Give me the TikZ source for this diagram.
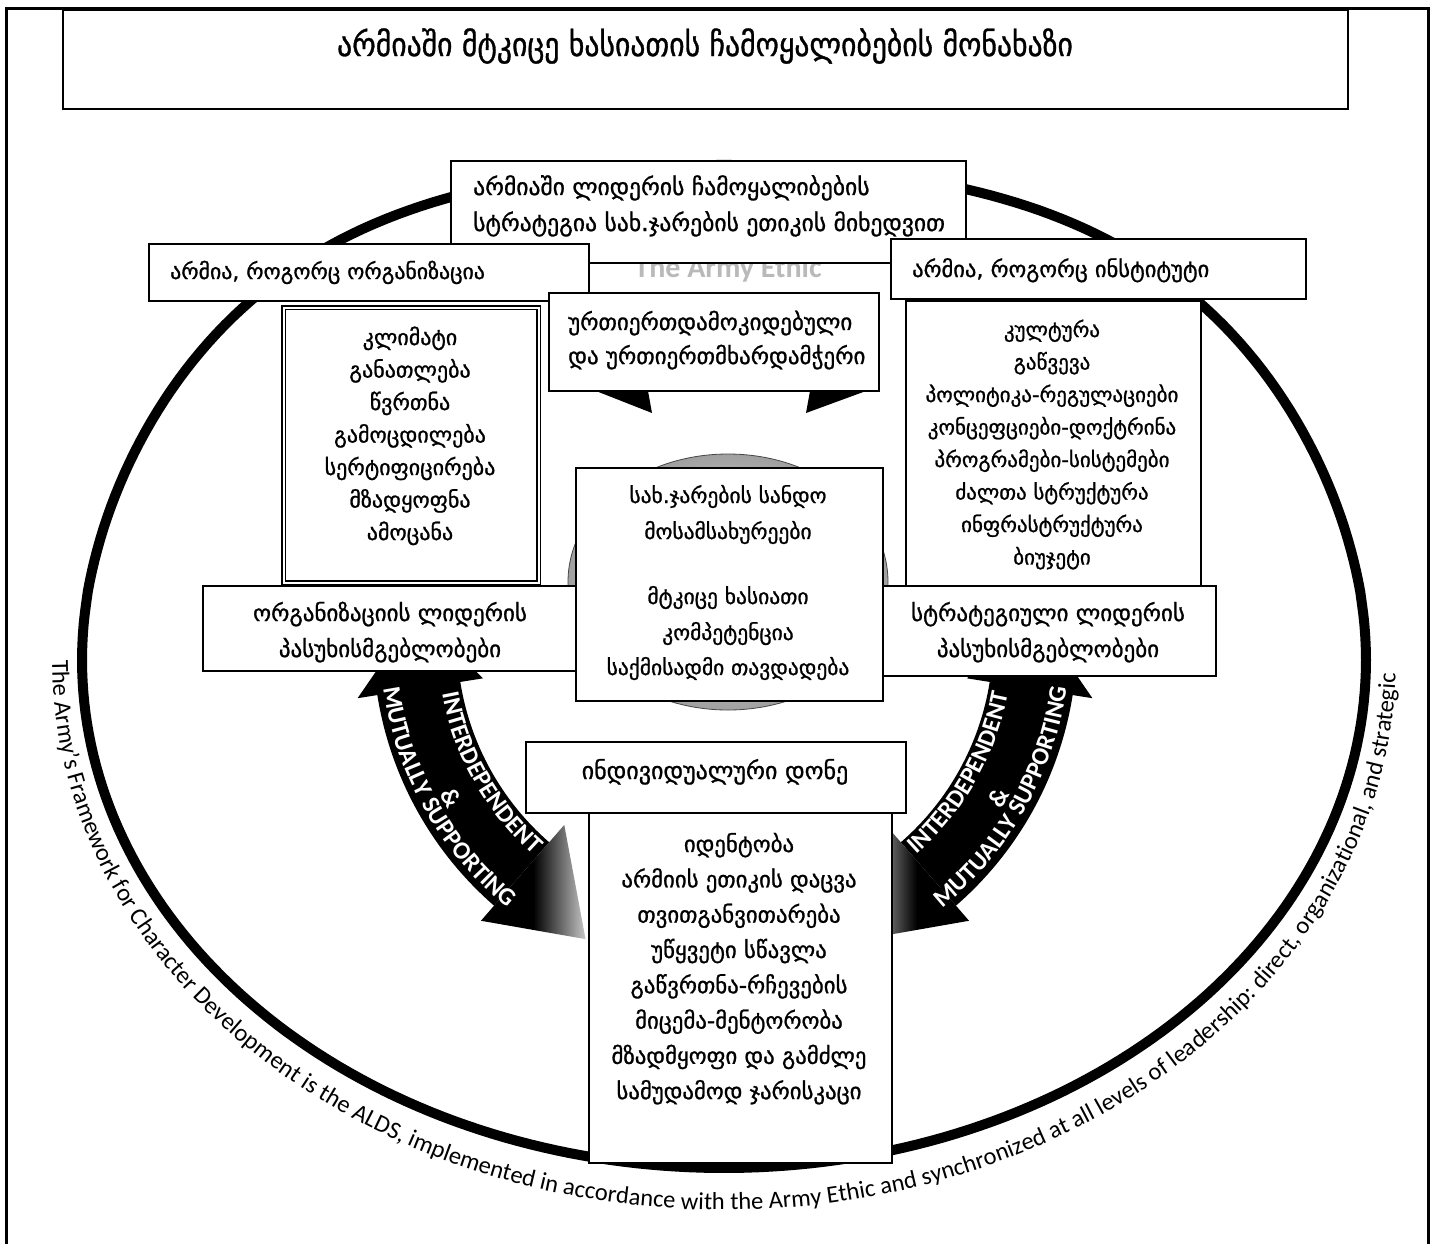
\documentclass[tikz,border=0pt]{standalone}
\usepackage{fontspec}
\setmainfont{DejaVu Sans}
\newfontfamily\geofont[FakeBold=1]{DejaVu Sans}
\newfontfamily\geocond[FakeBold=1]{DejaVu Sans Condensed}
\newfontfamily\carl{Carlito}
\usetikzlibrary{decorations.text}
\tikzset{
  box/.style={draw=black, line width=1.6pt, fill=white, inner sep=0pt, anchor=north west},
  dbox/.style={box, double=white, double distance=1.2pt, line width=1.9pt},
  gt/.style={font=\geofont\fontsize{#1}{#1}\selectfont, inner sep=0pt, anchor=base},
  gt/.default=22,
  gtw/.style={gt=#1, anchor=base west},
  gtw/.default=22,
  ttl/.style={font=\geocond\fontsize{33}{34}\selectfont, inner sep=0pt, anchor=base},
  amp/.style={font=\carl\bfseries\fontsize{25}{25}\selectfont, text=white, inner sep=0pt},
}
\begin{document}
\begin{tikzpicture}[x=1pt,y=-1pt]
\useasboundingbox (0,0) rectangle (1435,1243);
\fill[white] (0,0) rectangle (1435,1243);
% outer frame
\draw[line width=3pt] (6,1245) -- (6,8) -- (1428,8) -- (1428,1245);

% big ellipse (upper half slightly flattened)
\draw[line width=10pt, line join=round]
  plot[domain=0.5:179.5, samples=150] ({724+642*cos(\x)},{660-495*(sin(\x))^(1-0.4*(sin(\x))^2)})
  -- plot[domain=180:360, samples=150] ({724+642*cos(\x)},{660-508*sin(\x)}) -- cycle;

% text along the ellipse
\path[decorate, decoration={text along path,
  text={|\carl\fontsize{24.5}{25}\selectfont|The Army’s Framework for Character Development is the ALDS, implemented in accordance with the Army Ethic and synchronized at all levels of leadership: direct, organizational, and strategic}}]
  plot[domain=180:360, samples=90] ({724+672*cos(\x)},{660-550*sin(\x)});

% grey disc behind centre box
\shade[inner color=white, outer color=gray!75] (728,582) ellipse [x radius=160pt, y radius=128pt];
\draw[gray!55!black, line width=0.8pt] (728,582) ellipse [x radius=160pt, y radius=128pt];

% curved arrows
\begin{scope}[shift={(725,640)}, x=1pt, y=1pt]
 \fill[black] (189:245) -- (175:310) -- (189:372) -- (189:352)
   arc[start angle=189, end angle=229, radius=352] -- (229:268)
   arc[start angle=229, end angle=189, radius=268] -- cycle;
 \shade[left color=black, right color=gray!45, middle color=black]
   (229:352) -- (229:372) -- (245:330) -- (229:245) -- (229:268) -- cycle;
 \fill[black] (351:245) -- (5:310) -- (351:372) -- (351:352)
   arc[start angle=351, end angle=311, radius=352] -- (311:268)
   arc[start angle=311, end angle=351, radius=268] -- cycle;
 \shade[left color=gray!45, right color=black, middle color=black]
   (311:352) -- (311:372) -- (295:330) -- (311:245) -- (311:268) -- cycle;
 \path[decorate, decoration={text along path, text align=center, text color=white,
   text={|\carl\bfseries\fontsize{25}{25}\selectfont|INTERDEPENDENT}}]
   (180:288) arc[start angle=180, end angle=239, radius=288];
 \path[decorate, decoration={text along path, text align=center, text color=white,
   text={|\carl\bfseries\fontsize{25}{25}\selectfont|MUTUALLY SUPPORTING}}]
   (180:345) arc[start angle=180, end angle=239, radius=345];
 \path[decorate, decoration={text along path, text align=center, text color=white,
   text={|\carl\bfseries\fontsize{25}{25}\selectfont|INTERDEPENDENT}}]
   (301:288) arc[start angle=301, end angle=360, radius=288];
 \path[decorate, decoration={text along path, text align=center, text color=white,
   text={|\carl\bfseries\fontsize{25}{25}\selectfont|MUTUALLY SUPPORTING}}]
   (301:345) arc[start angle=301, end angle=360, radius=345];
 \node[amp, rotate=-60] (ampl) at (210:316) {\&};
 \node[amp, rotate=60] (ampr) at (330:316) {\&};
\end{scope}

% top arrow heads
\fill[black] (596,391) -- (648,391) -- (652,413) -- cycle;
\fill[black] (810,391) -- (866,391) -- (806,413) -- cycle;

% blurred background title peeking out
\node[font=\carl\bfseries\fontsize{30}{30}\selectfont, text=gray!55, anchor=base, inner sep=0pt] (ethic) at (728,277) {The Army Ethic};

% boxes
\node[box, minimum width=1285pt, minimum height=99pt] (titlebox) at (62,9) {};
\node[ttl] (title) at (705,56) {არმიაში მტკიცე ხასიათის ჩამოყალიბების მონახაზი};

\node[box, minimum width=515pt, minimum height=102pt] (topbox) at (450,160) {};
\node[gtw=23.6] (top1) at (473,195) {არმიაში ლიდერის ჩამოყალიბების};
\node[gtw=23.6] (top2) at (473,231) {სტრატეგია სახ.ჯარების ეთიკის მიხედვით};

\node[box, minimum width=440pt, minimum height=57pt] (orgbox) at (148,243) {};
\node[gtw=21.8] (orgt) at (170,279) {არმია, როგორც ორგანიზაცია};

\node[box, minimum width=415pt, minimum height=60pt] (instbox) at (890,238) {};
\node[gtw=22.5] (instt) at (912,277) {არმია, როგორც ინსტიტუტი};

\node[box, minimum width=330pt, minimum height=98pt] (ctop) at (548,292) {};
\node[gtw=23] (ctop1) at (568,330) {ურთიერთდამოკიდებული};
\node[gtw=23] (ctop2) at (568,364) {და ურთიერთმხარდამჭერი};

\node[dbox, minimum width=255pt, minimum height=275pt] (llist) at (283,307) {};
\foreach \itm [count=\i] in {კლიმატი,განათლება,წვრთნა,გამოცდილება,სერტიფიცირება,მზადყოფნა,ამოცანა}
  \node[gt=22] (ll\i) at (410,{345+32.5*(\i-1)}) {\itm};

\node[box, minimum width=295pt, minimum height=285pt] (rlist) at (905,300) {};
\foreach \itm [count=\i] in {კულტურა,გაწვევა,პოლიტიკა-რეგულაციები,კონცეფციები-დოქტრინა,პროგრამები-სისტემები,ძალთა სტრუქტურა,ინფრასტრუქტურა,ბიუჯეტი}
  \node[gt=21] (rl\i) at (1052,{337+32.5*(\i-1)}) {\itm};

\node[box, minimum width=376pt, minimum height=85pt] (lbot) at (202,585) {};
\node[gt=23] (lbot1) at (390,621) {ორგანიზაციის ლიდერის};
\node[gt=23] (lbot2) at (390,657) {პასუხისმგებლობები};

\node[box, minimum width=334pt, minimum height=90pt] (rbot) at (881,585) {};
\node[gt=23] (rbot1) at (1048,621) {სტრატეგიული ლიდერის};
\node[gt=23] (rbot2) at (1048,657) {პასუხისმგებლობები};

\node[box, minimum width=307pt, minimum height=233pt] (center) at (575,467) {};
\node[gt=21.5] (c1) at (728,503) {სახ.ჯარების სანდო};
\node[gt=21.5] (c2) at (728,539) {მოსამსახურეები};
\node[gt=21.5] (c3) at (728,604) {მტკიცე ხასიათი};
\node[gt=21.5] (c4) at (728,640) {კომპეტენცია};
\node[gt=21.5] (c5) at (728,675) {საქმისადმი თავდადება};

\node[box, minimum width=380pt, minimum height=71pt] (indiv) at (525,741) {};
\node[gt=24] (indivt) at (715,779) {ინდივიდუალური დონე};

\node[box, minimum width=303pt, minimum height=350pt] (blist) at (588,812) {};
\foreach \itm [count=\i] in {იდენტობა,არმიის ეთიკის დაცვა,თვითგანვითარება,უწყვეტი სწავლა,გაწვრთნა-რჩევების,მიცემა-მენტორობა,მზადმყოფი და გამძლე,სამუდამოდ ჯარისკაცი}
  \node[gt=22.8] (bl\i) at (739,{852+35.3*(\i-1)}) {\itm};
\end{tikzpicture}
\end{document}
